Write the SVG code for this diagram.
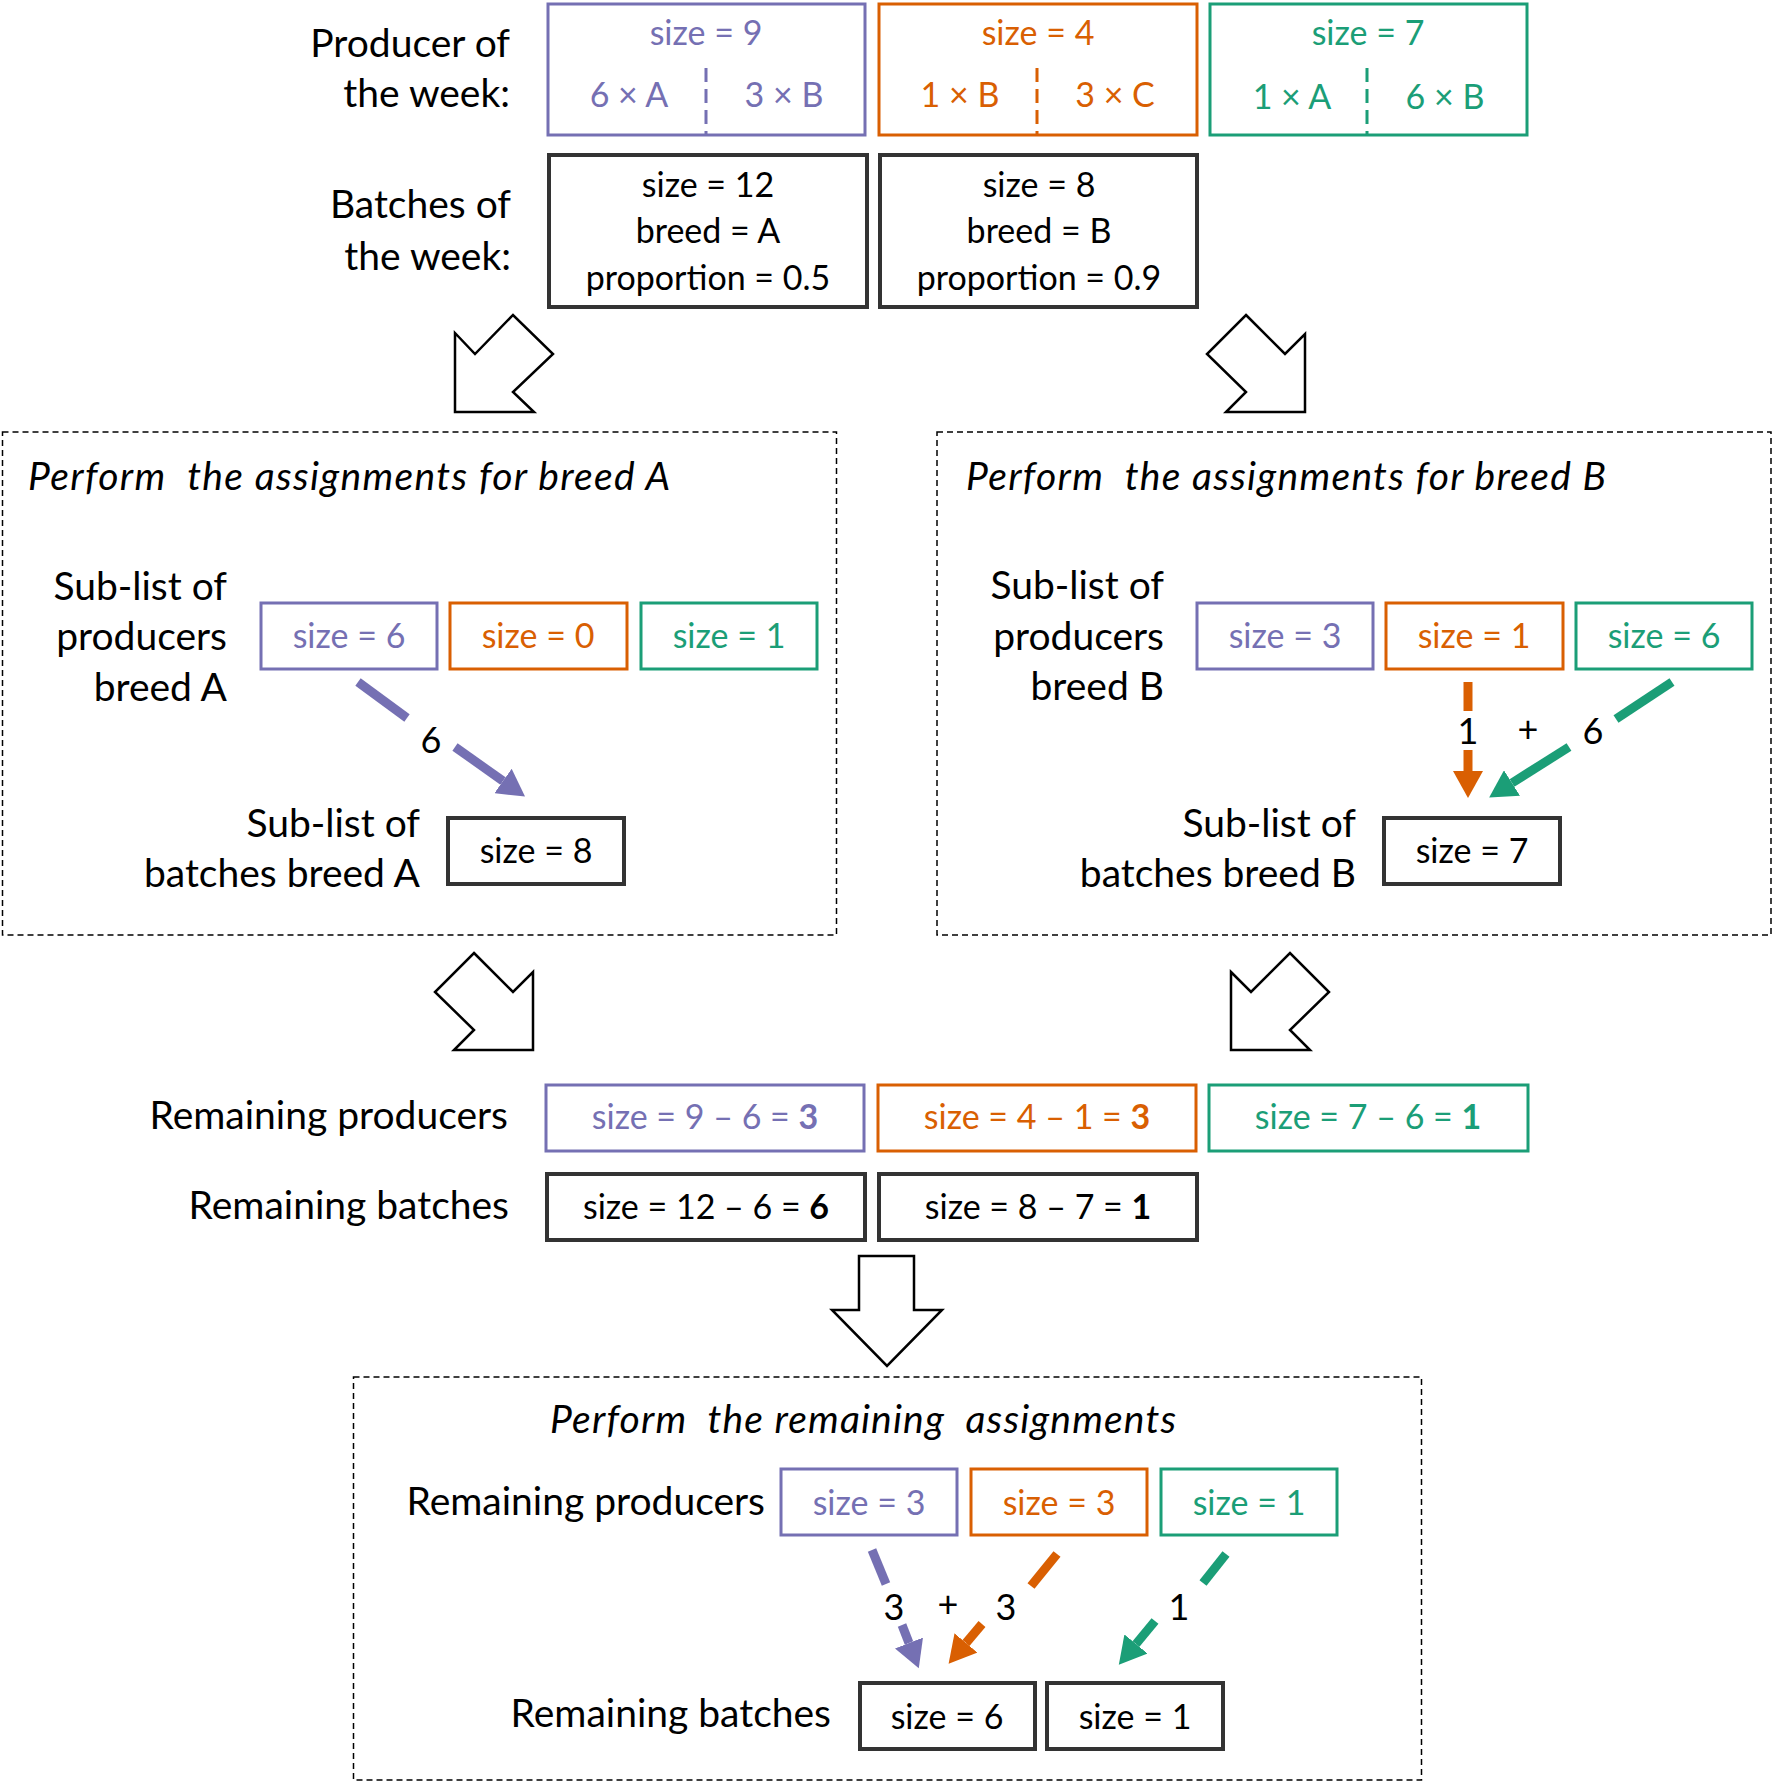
<svg xmlns="http://www.w3.org/2000/svg" width="1773" height="1782" viewBox="0 0 1773 1782">
<style>
text{font-family:Lato,"Open Sans","Liberation Sans",sans-serif;}
.lbl{font-size:39px;fill:#000;text-anchor:end;}
.t{font-size:34px;text-anchor:middle;}
.ttl{font-size:39px;font-style:italic;fill:#000;}
.num{font-size:36px;fill:#000;text-anchor:middle;}
.p{fill:#7570B3;} .o{fill:#D95F02;} .g{fill:#1B9E77;} .k{fill:#000;}
.bp{fill:none;stroke:#7570B3;stroke-width:3;}
.bo{fill:none;stroke:#D95F02;stroke-width:3;}
.bg{fill:none;stroke:#1B9E77;stroke-width:3;}
.bk{fill:none;stroke:#333;stroke-width:4;}
.dv{stroke-width:3;stroke-dasharray:14 7;}
.frame{fill:none;stroke:#000;stroke-width:1.5;stroke-dasharray:6 4;}
.block{fill:#fff;stroke:#000;stroke-width:2.5;stroke-linejoin:miter;}
.ap{stroke:#7570B3;stroke-width:9;fill:none;}
.ao{stroke:#D95F02;stroke-width:9;fill:none;}
.ag{stroke:#1B9E77;stroke-width:9;fill:none;}
</style>
<defs>
<marker id="mp" markerUnits="userSpaceOnUse" markerWidth="28" markerHeight="30" refX="0" refY="15" orient="auto"><path d="M0,0 L27,15 L0,30 z" fill="#7570B3"/></marker>
<marker id="mo" markerUnits="userSpaceOnUse" markerWidth="28" markerHeight="30" refX="0" refY="15" orient="auto"><path d="M0,0 L27,15 L0,30 z" fill="#D95F02"/></marker>
<marker id="mg" markerUnits="userSpaceOnUse" markerWidth="28" markerHeight="30" refX="0" refY="15" orient="auto"><path d="M0,0 L27,15 L0,30 z" fill="#1B9E77"/></marker>
</defs>
<rect width="1773" height="1782" fill="#fff"/>

<!-- Top labels -->
<g id="label-producers-week">
<text class="lbl" x="510" y="57">Producer of</text>
<text class="lbl" x="510" y="107">the week:</text>
</g>
<g id="label-batches-week">
<text class="lbl" x="511" y="218">Batches of</text>
<text class="lbl" x="511" y="270">the week:</text>
</g>

<g id="prod-purple">
<rect class="bp" x="548" y="4" width="317" height="131"/>
<line class="bp dv" x1="706" y1="68" x2="706" y2="135"/>
<text class="t p" x="706" y="45">size = 9</text>
<text class="t p" x="629" y="107">6 × A</text>
<text class="t p" x="784" y="107">3 × B</text>
</g>
<g id="prod-orange">
<rect class="bo" x="879" y="4" width="318" height="131"/>
<line class="bo dv" x1="1037" y1="68" x2="1037" y2="135"/>
<text class="t o" x="1038" y="45">size = 4</text>
<text class="t o" x="960" y="107">1 × B</text>
<text class="t o" x="1115" y="107">3 × C</text>
</g>
<g id="prod-green">
<rect class="bg" x="1210" y="4" width="317" height="131"/>
<line class="bg dv" x1="1367" y1="68" x2="1367" y2="135"/>
<text class="t g" x="1368" y="45">size = 7</text>
<text class="t g" x="1292" y="109">1 × A</text>
<text class="t g" x="1445" y="109">6 × B</text>
</g>

<g id="batch-A">
<rect class="bk" x="549" y="155" width="318" height="152"/>
<text class="t k" x="708" y="197">size = 12</text>
<text class="t k" x="708" y="243">breed = A</text>
<text class="t k" x="708" y="290">proportion = 0.5</text>
</g>
<g id="batch-B">
<rect class="bk" x="880" y="155" width="317" height="152"/>
<text class="t k" x="1039" y="197">size = 8</text>
<text class="t k" x="1039" y="243">breed = B</text>
<text class="t k" x="1039" y="290">proportion = 0.9</text>
</g>

<!-- Block arrows -->
<g id="block-arrows">
<polygon class="block" points="455,333 475,354 513,315 553,354 513,392 534,412 455,412"/>
<polygon class="block" points="1246,315 1285,354 1305,334 1305,412 1226,412 1246,392 1207,354"/>
<polygon class="block" points="474,953 513,992 533,972 533,1050 454,1050 474,1030 435,992"/>
<polygon class="block" points="1231,972 1251,992 1290,953 1329,992 1290,1030 1310,1050 1231,1050"/>
<polygon class="block" points="859,1256 914,1256 914,1310 942,1310 887,1366 832,1310 859,1310"/>
</g>

<!-- Breed A frame -->
<g id="frame-A">
<rect class="frame" x="2.5" y="432" width="834" height="503"/>
<text class="ttl" x="28" y="490" textLength="642" xml:space="preserve">Perform  the assignments for breed A</text>
</g>
<g id="label-sub-prod-A">
<text class="lbl" x="227" y="600">Sub-list of</text>
<text class="lbl" x="227" y="650">producers</text>
<text class="lbl" x="227" y="701">breed A</text>
</g>
<g id="subA-purple"><rect class="bp" x="261" y="603" width="176" height="66"/><text class="t p" x="349" y="648">size = 6</text></g>
<g id="subA-orange"><rect class="bo" x="450" y="603" width="177" height="66"/><text class="t o" x="538" y="648">size = 0</text></g>
<g id="subA-green"><rect class="bg" x="641" y="603" width="176" height="66"/><text class="t g" x="729" y="648">size = 1</text></g>
<g id="label-sub-batch-A">
<text class="lbl" x="420" y="837">Sub-list of</text>
<text class="lbl" x="420" y="887">batches breed A</text>
</g>
<g id="subA-batch"><rect class="bk" x="448" y="818" width="176" height="66"/><text class="t k" x="536" y="863">size = 8</text></g>

<!-- Breed B frame -->
<g id="frame-B">
<rect class="frame" x="937" y="432" width="834" height="503"/>
<text class="ttl" x="966" y="490" textLength="640" xml:space="preserve">Perform  the assignments for breed B</text>
</g>
<g id="label-sub-prod-B">
<text class="lbl" x="1164" y="599">Sub-list of</text>
<text class="lbl" x="1164" y="650">producers</text>
<text class="lbl" x="1164" y="700">breed B</text>
</g>
<g id="subB-purple"><rect class="bp" x="1197" y="603" width="176" height="66"/><text class="t p" x="1285" y="648">size = 3</text></g>
<g id="subB-orange"><rect class="bo" x="1386" y="603" width="177" height="66"/><text class="t o" x="1474" y="648">size = 1</text></g>
<g id="subB-green"><rect class="bg" x="1576" y="603" width="176" height="66"/><text class="t g" x="1664" y="648">size = 6</text></g>
<g id="label-sub-batch-B">
<text class="lbl" x="1356" y="837">Sub-list of</text>
<text class="lbl" x="1356" y="887">batches breed B</text>
</g>
<g id="subB-batch"><rect class="bk" x="1384" y="818" width="176" height="66"/><text class="t k" x="1472" y="863">size = 7</text></g>

<!-- Remaining rows -->
<g id="label-rem-prod"><text class="lbl" x="508" y="1129">Remaining producers</text></g>
<g id="label-rem-batch"><text class="lbl" x="509" y="1219">Remaining batches</text></g>
<g id="rem-purple"><rect class="bp" x="546" y="1085" width="318" height="66"/><text class="t p" x="705" y="1129">size = 9 – 6 = <tspan font-weight="bold">3</tspan></text></g>
<g id="rem-orange"><rect class="bo" x="878" y="1085" width="318" height="66"/><text class="t o" x="1037" y="1129">size = 4 – 1 = <tspan font-weight="bold">3</tspan></text></g>
<g id="rem-green"><rect class="bg" x="1209" y="1085" width="319" height="66"/><text class="t g" x="1368" y="1129">size = 7 – 6 = <tspan font-weight="bold">1</tspan></text></g>
<g id="rem-batch-1"><rect class="bk" x="547" y="1174" width="318" height="66"/><text class="t k" x="706" y="1219">size = 12 – 6 = <tspan font-weight="bold">6</tspan></text></g>
<g id="rem-batch-2"><rect class="bk" x="879" y="1174" width="318" height="66"/><text class="t k" x="1038" y="1219">size = 8 – 7 = <tspan font-weight="bold">1</tspan></text></g>

<!-- Remaining frame -->
<g id="frame-rem">
<rect class="frame" x="353.5" y="1377" width="1068" height="403"/>
<text class="ttl" x="550" y="1433" textLength="626" xml:space="preserve">Perform  the remaining  assignments</text>
</g>
<g id="label-rem-prod-2"><text class="lbl" x="765" y="1515">Remaining producers</text></g>
<g id="fin-purple"><rect class="bp" x="781" y="1469" width="176" height="66"/><text class="t p" x="869" y="1515">size = 3</text></g>
<g id="fin-orange"><rect class="bo" x="971" y="1469" width="176" height="66"/><text class="t o" x="1059" y="1515">size = 3</text></g>
<g id="fin-green"><rect class="bg" x="1161" y="1469" width="176" height="66"/><text class="t g" x="1249" y="1515">size = 1</text></g>
<g id="label-rem-batch-2"><text class="lbl" x="831" y="1727">Remaining batches</text></g>
<g id="fin-batch-1"><rect class="bk" x="860" y="1683" width="175" height="66"/><text class="t k" x="947" y="1729">size = 6</text></g>
<g id="fin-batch-2"><rect class="bk" x="1047" y="1683" width="176" height="66"/><text class="t k" x="1135" y="1729">size = 1</text></g>

<!-- Connectors -->
<g id="connectors">
<line class="ap" x1="358" y1="682" x2="407" y2="718"/>
<line class="ap" x1="455" y1="747" x2="503" y2="781" marker-end="url(#mp)"/>
<text class="num" x="431" y="753">6</text>

<line class="ao" x1="1468" y1="682" x2="1468" y2="711"/>
<line class="ao" x1="1468" y1="750" x2="1468" y2="771" marker-end="url(#mo)"/>
<line class="ag" x1="1672" y1="682" x2="1616" y2="719"/>
<line class="ag" x1="1569" y1="747" x2="1512" y2="783" marker-end="url(#mg)"/>
<text class="num" x="1468" y="744">1</text>
<text class="num" x="1528" y="742">+</text>
<text class="num" x="1593" y="744">6</text>

<line class="ap" x1="872" y1="1550" x2="886" y2="1584"/>
<line class="ap" x1="902" y1="1625" x2="909" y2="1643" marker-end="url(#mp)"/>
<line class="ao" x1="1057" y1="1554" x2="1031" y2="1586"/>
<line class="ao" x1="982" y1="1624" x2="966" y2="1643" marker-end="url(#mo)"/>
<line class="ag" x1="1226" y1="1554" x2="1203" y2="1583"/>
<line class="ag" x1="1155" y1="1621" x2="1136" y2="1644" marker-end="url(#mg)"/>
<text class="num" x="894" y="1620">3</text>
<text class="num" x="948" y="1617">+</text>
<text class="num" x="1006" y="1620">3</text>
<text class="num" x="1179" y="1620">1</text>
</g>
</svg>
